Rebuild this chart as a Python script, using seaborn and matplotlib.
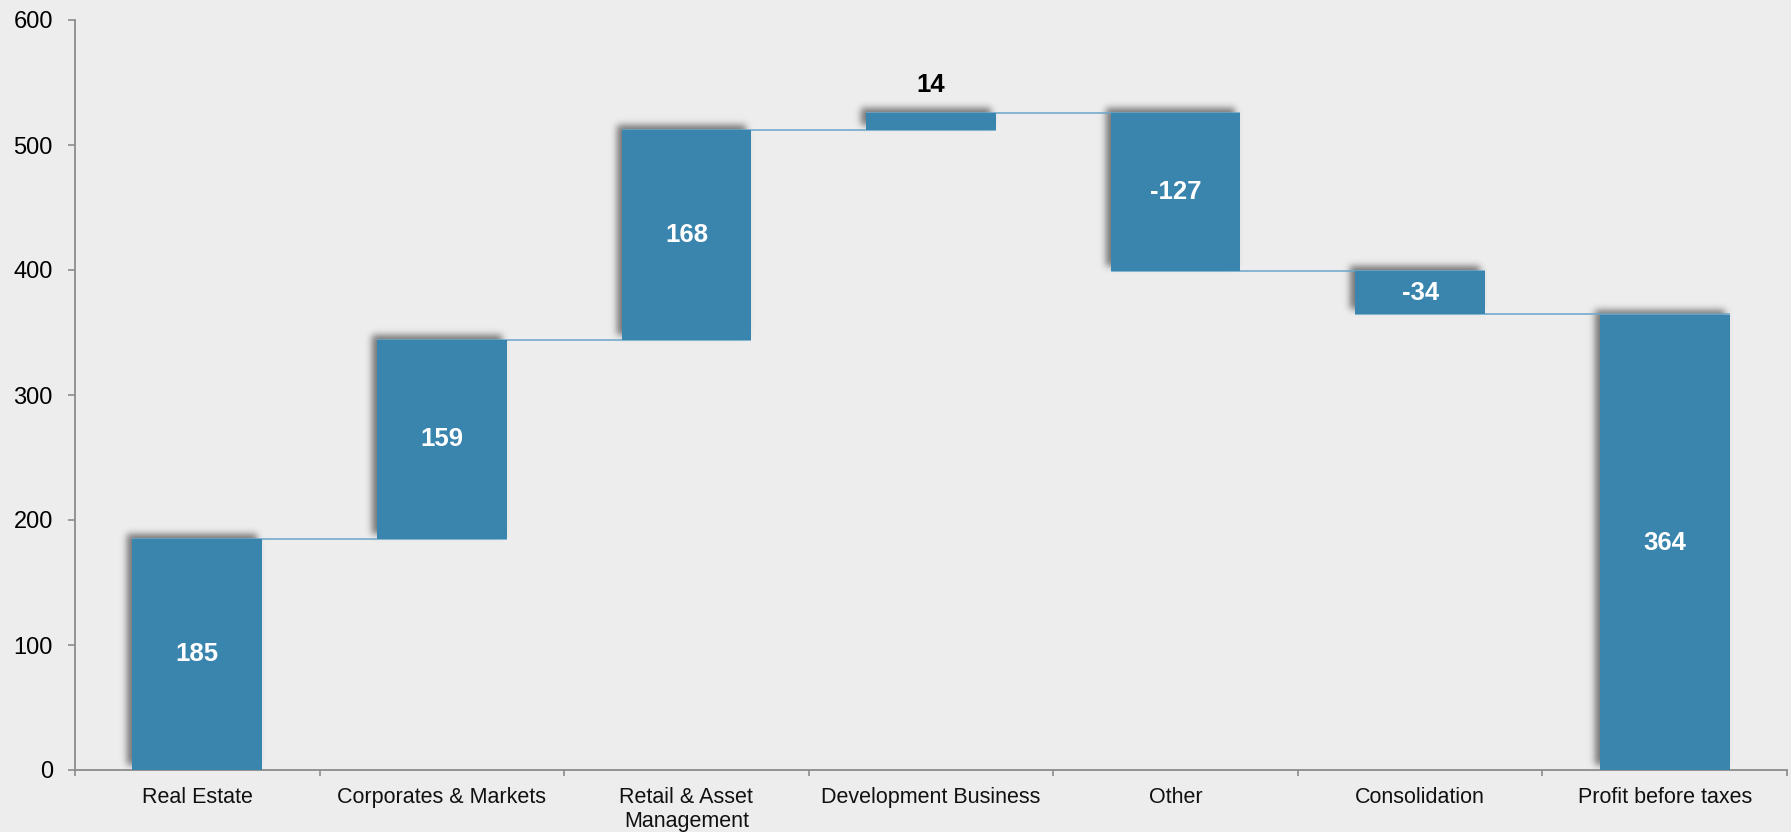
import matplotlib
matplotlib.use("Agg")
import matplotlib.pyplot as plt
import seaborn as sns
import numpy as np
import pandas as pd

categories = ["Real Estate", "Corporates & Markets", "Retail & Asset\nManagement",
              "Development Business", "Other", "Consolidation", "Profit before taxes"]
values = [185, 159, 168, 14, -127, -34, 364]
is_total = [False, False, False, False, False, False, True]
labels = ["185", "159", "168", "14", "-127", "-34", "364"]
y_ticks = [0, 100, 200, 300, 400, 500, 600]

BG = "#ededed"
BAR = "#3a85ad"
LINE = "#6aa5c9"
SPINE = "#8c8c8c"

sns.set_theme(style="white")
plt.rcParams["font.family"] = ["Liberation Sans", "DejaVu Sans"]

# waterfall geometry from values
lows, highs, ends = [], [], []
run = 0.0
for v, tot in zip(values, is_total):
    if tot:
        lo, hi = 0.0, float(v)
        run = float(v)
    else:
        start = run
        run = run + v
        lo, hi = min(start, run), max(start, run)
    lows.append(lo); highs.append(hi); ends.append(run)

df = pd.DataFrame({"cat": categories, "h": np.array(highs) - np.array(lows)})

dpi = 100
fig = plt.figure(figsize=(17.91, 8.32), dpi=dpi, facecolor=BG)
L, R, B, T = 75 / 1791, 1787 / 1791, 1 - 770 / 832, 1 - 20 / 832
ax = fig.add_axes([L, B, R - L, T - B])
ax.set_facecolor(BG)

W = 0.53
sns.barplot(data=df, x="cat", y="h", color=BAR, saturation=1, width=W, ax=ax,
            linewidth=0, zorder=3)
bars = list(ax.patches)
for p, lo, hi in zip(bars, lows, highs):
    p.set_y(lo)
    p.set_height(hi - lo)

X0, X1 = -0.5, len(categories) - 0.5
Y0, Y1 = 0, 600
ax.set_xlim(X0, X1)
ax.set_ylim(Y0, Y1)

# ---- soft blurred drop shadow (up-left), rasterised from the bar geometry ----
npx_w = int(round(fig.get_figwidth() * dpi * (R - L)))
npx_h = int(round(fig.get_figheight() * dpi * (T - B)))
sx = npx_w / (X1 - X0)
sy = npx_h / (Y1 - Y0)
pad = 25
mask = np.zeros((npx_h + 2 * pad, npx_w + 2 * pad))
off_x, off_y, sigma = -5.0, 5.0, 3.5
for i, (lo, hi) in enumerate(zip(lows, highs)):
    c0 = int(round((i - W / 2 - X0) * sx + off_x)) + pad
    c1 = int(round((i + W / 2 - X0) * sx + off_x)) + pad
    r0 = int(round((lo - Y0) * sy + off_y)) + pad
    r1 = int(round((hi - Y0) * sy + off_y)) + pad
    mask[max(r0, 0):r1, max(c0, 0):c1] = 1.0
rad = int(3 * sigma) + 1
kx = np.arange(-rad, rad + 1)
kern = np.exp(-0.5 * (kx / sigma) ** 2)
kern /= kern.sum()
blur = np.apply_along_axis(lambda r: np.convolve(r, kern, mode="same"), 1, mask)
blur = np.apply_along_axis(lambda c: np.convolve(c, kern, mode="same"), 0, blur)
blur = blur[pad:-pad, pad:-pad]
rgba = np.zeros((npx_h, npx_w, 4))
rgba[..., :3] = 0.12
rgba[..., 3] = 0.58 * blur
ax.imshow(rgba, origin="lower", extent=(X0, X1, Y0, Y1), aspect="auto",
          interpolation="nearest", zorder=1)
ax.set_xlim(X0, X1)
ax.set_ylim(Y0, Y1)

# connector lines
for i in range(len(categories) - 1):
    ax.plot([i - W / 2, i + 1 + W / 2], [ends[i], ends[i]], color=LINE, lw=1.1,
            zorder=2, solid_capstyle="butt")

# value labels
for i, (lo, hi, lab) in enumerate(zip(lows, highs, labels)):
    if (hi - lo) * sy < 30:
        ax.text(i, hi + 28 / sy, lab, ha="center", va="center", fontsize=18.5,
                fontweight="bold", color="black", zorder=5)
    else:
        ax.text(i, (lo + hi) / 2, lab, ha="center", va="center", fontsize=18.5,
                fontweight="bold", color="white", zorder=5)

# axes styling
for s in ["top", "right"]:
    ax.spines[s].set_visible(False)
for s in ["left", "bottom"]:
    ax.spines[s].set_color(SPINE)
    ax.spines[s].set_linewidth(1.3)

ax.set_yticks(y_ticks)
ax.set_yticklabels([str(t) for t in y_ticks])
ax.tick_params(axis="y", which="major", direction="out", length=5, width=1.2,
               color=SPINE, pad=11, labelsize=17, labelcolor="black", left=True)
ax.set_xticks(range(len(categories)))
ax.set_xticklabels(categories)
ax.set_xticks(np.arange(-0.5, len(categories), 1.0), minor=True)
ax.tick_params(axis="x", which="major", length=0, pad=12, labelsize=15.5, labelcolor="#111111")
ax.tick_params(axis="x", which="minor", direction="out", length=4, width=1.2,
               color=SPINE, bottom=True)
for t in ax.get_xticklabels():
    t.set_linespacing(1.2)
ax.set_xlabel("")
ax.set_ylabel("")
ax.grid(False)

fig.savefig("out.png", dpi=dpi, facecolor=BG)
